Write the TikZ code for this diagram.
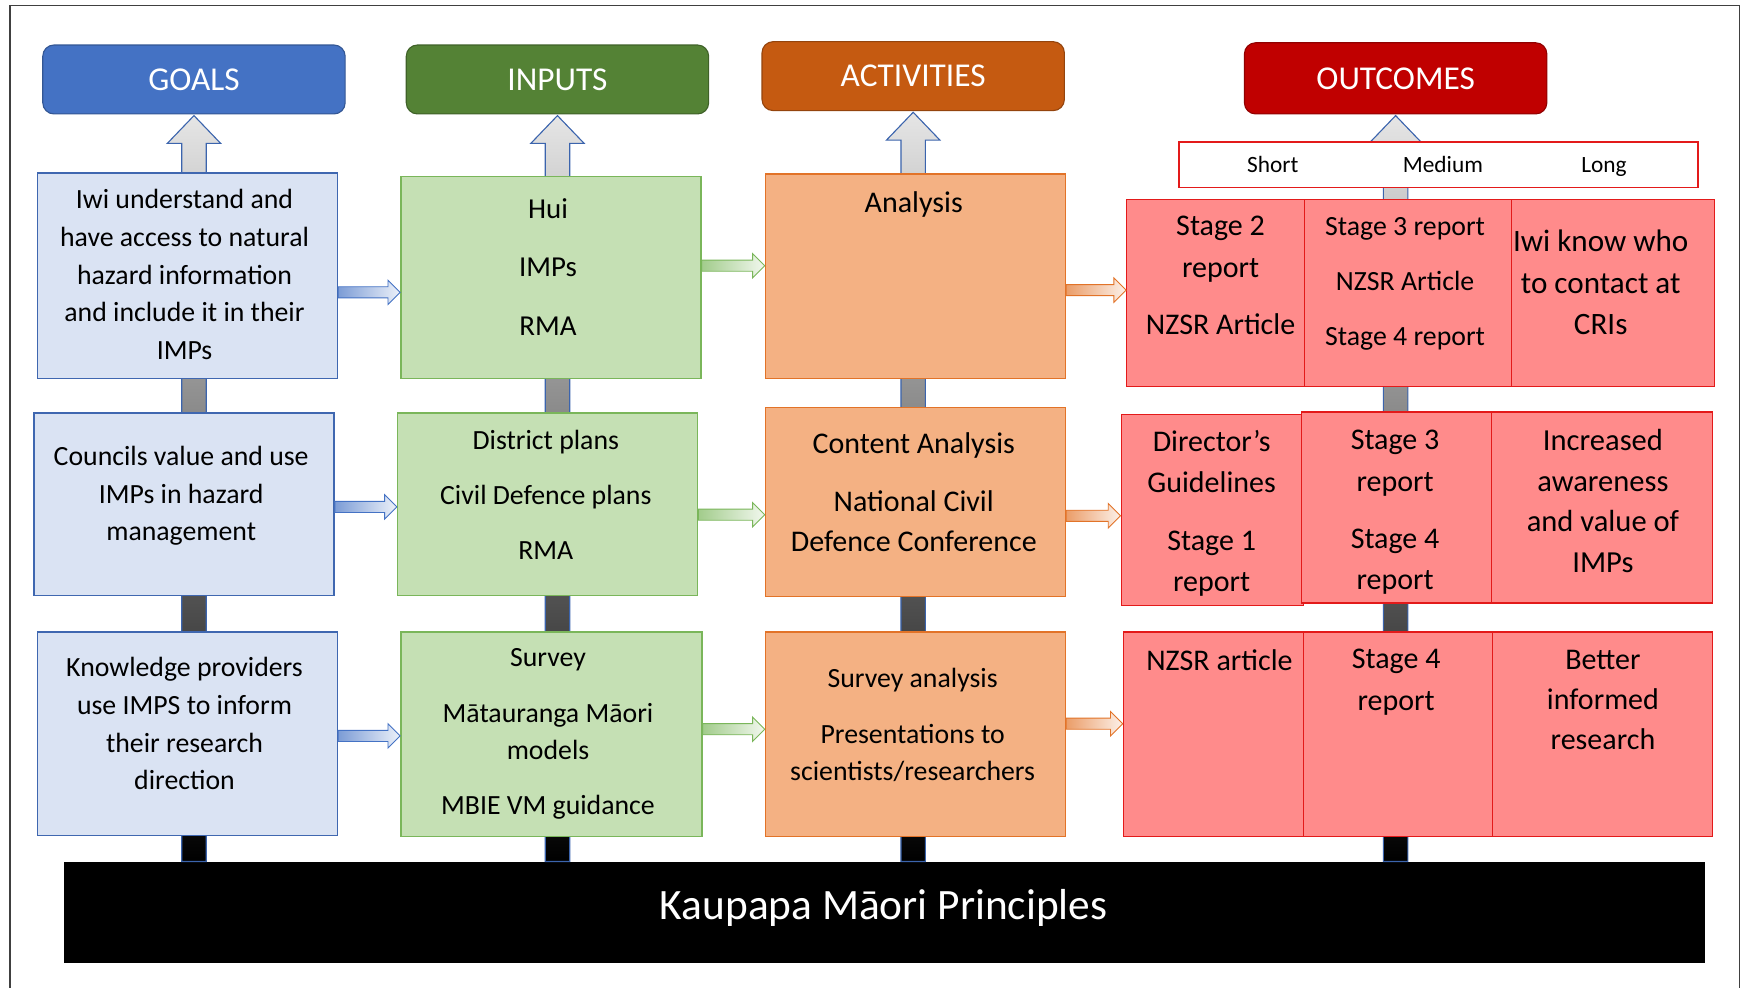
\documentclass[tikz,border=0pt]{standalone}
\usepackage{fontspec}
\setmainfont{Carlito}
\usetikzlibrary{calc}

\definecolor{goalhead}{HTML}{4472C4}
\definecolor{inhead}{HTML}{548235}
\definecolor{acthead}{HTML}{C55A11}
\definecolor{outhead}{HTML}{C00000}
\definecolor{goalfill}{HTML}{DAE3F3}
\definecolor{goaledge}{HTML}{3F67B0}
\definecolor{infill}{HTML}{C5E0B4}
\definecolor{inedge}{HTML}{7AB65A}
\definecolor{actfill}{HTML}{F4B183}
\definecolor{actedge}{HTML}{E27328}
\definecolor{outfill}{HTML}{FF8B8B}
\definecolor{outedge}{HTML}{E31A1A}
\definecolor{arrowedge}{HTML}{3B64AD}

\newcommand{\fsz}[2]{\fontsize{#1}{#2}\selectfont}
% grey block arrow from the base bar up to a header
\newcommand{\upconn}[2]{%
  \path[draw=arrowedge, line width=1pt, top color=black!10, bottom color=black]
    let \p1=(#1.south), \p2=(#2.north) in
    (\x1-11pt,\y2) -- (\x1-11pt,\y1-26pt) -- (\x1-24pt,\y1-26pt) -- (\x1,\y1-1pt)
    -- (\x1+24pt,\y1-26pt) -- (\x1+11pt,\y1-26pt) -- (\x1+11pt,\y2) -- cycle;}
% small block arrow between two boxes
\newcommand{\rightconn}[4]{%
  \path[draw=#4, line width=0.8pt, left color=#4!70, right color=#4!10]
    let \p1=(#1.east), \p2=(#2.west) in
    (\x1,#3+5pt) -- (\x2-11pt,#3+5pt) -- (\x2-11pt,#3+11pt) -- (\x2,#3)
    -- (\x2-11pt,#3-11pt) -- (\x2-11pt,#3-5pt) -- (\x1,#3-5pt) -- cycle;}

\begin{document}
\begin{tikzpicture}[x=1pt,y=1pt,
    head/.style={draw, rounded corners=10pt, line width=1pt, anchor=north west, inner sep=0pt,
      minimum width=272pt, minimum height=62pt, text=white, font=\fsz{30}{36}},
    box/.style={draw, line width=1.2pt, anchor=north west, inner sep=0pt},
    goalbox/.style={box, fill=goalfill, draw=goaledge},
    inbox/.style={box, fill=infill, draw=inedge},
    actbox/.style={box, fill=actfill, draw=actedge},
    outbox/.style={box, fill=outfill, draw=outedge},
    term/.style={font=\fsz{21}{25}, text height=14pt, text depth=4pt},
    txt/.style={anchor=north, align=center, inner sep=0pt}]
	\useasboundingbox (0,0) rectangle (1568,-888);
	\draw[line width=1.3pt, black!75] (9,-5) rectangle (1565,-900);

	\node[head, fill=goalhead, draw=goalhead!75!black] (hgoals) at (38,-40) {GOALS};
	\node[head, fill=inhead, draw=inhead!75!black] (hinputs) at (365,-40) {INPUTS};
	\node[head, fill=acthead, draw=acthead!75!black] (hacts) at (685,-37) {ACTIVITIES};
	\node[head, fill=outhead, draw=outhead!75!black, minimum height=64pt] (houts) at (1119,-38) {OUTCOMES};
	\node[fill=black, anchor=north west, inner sep=0pt, minimum width=1477pt, minimum height=91pt] (bar) at (57,-775) {};
	\node[text=white, font=\fsz{39}{47}] (kmp) at (795,-817) {Kaupapa Māori Principles};

	\upconn{hgoals}{bar}
	\upconn{hinputs}{bar}
	\upconn{hacts}{bar}
	\upconn{houts}{bar}

	% goals
	\node[goalbox, minimum width=270pt, minimum height=185pt] (g1) at (33,-155) {};
	\node[goalbox, minimum width=270pt, minimum height=164pt] (g2) at (30,-371) {};
	\node[goalbox, minimum width=270pt, minimum height=183pt] (g3) at (33,-568) {};
	% inputs
	\node[inbox, minimum width=270pt, minimum height=182pt] (i1) at (360,-158) {};
	\node[inbox, minimum width=270pt, minimum height=164pt] (i2) at (357,-371) {};
	\node[inbox, minimum width=271pt, minimum height=184pt] (i3) at (360,-568) {};
	% activities
	\node[actbox, minimum width=270pt, minimum height=184pt] (a1) at (688,-156) {};
	\node[actbox, minimum width=270pt, minimum height=170pt] (a2) at (688,-366) {};
	\node[actbox, minimum width=270pt, minimum height=184pt] (a3) at (688,-568) {};
	% outcomes
	\node[box, fill=white, draw=outedge, minimum width=467pt, minimum height=41pt] (terms) at (1060,-127) {};
	\node[outbox, minimum width=160pt, minimum height=168pt] (o11) at (1013,-179) {};
	\node[outbox, minimum width=186pt, minimum height=168pt] (o12) at (1173,-179) {};
	\node[outbox, minimum width=183pt, minimum height=168pt] (o13) at (1359,-179) {};
	\node[outbox, minimum width=164pt, minimum height=172pt] (o21) at (1008,-372) {};
	\node[outbox, minimum width=171pt, minimum height=172pt] (o22) at (1170,-370) {};
	\node[outbox, minimum width=199pt, minimum height=172pt] (o23) at (1341,-370) {};
	\node[outbox, minimum width=162pt, minimum height=184pt] (o31) at (1010,-568) {};
	\node[outbox, minimum width=170pt, minimum height=184pt] (o32) at (1172,-568) {};
	\node[outbox, minimum width=198pt, minimum height=184pt] (o33) at (1342,-568) {};

	\rightconn{g1}{i1}{-263pt}{goalhead}
	\rightconn{g2}{i2}{-456pt}{goalhead}
	\rightconn{g3}{i3}{-662pt}{goalhead}
	\rightconn{i1}{a1}{-239pt}{inedge}
	\rightconn{i2}{a2}{-463pt}{inedge}
	\rightconn{i3}{a3}{-656pt}{inedge}
	\rightconn{a1}{o11}{-261pt}{actedge}
	\rightconn{a2}{o21}{-464pt}{actedge}
	\rightconn{a3}{o31}{-651pt}{actedge}

	\node[term] (short) at (1145,-150) {Short};
	\node[term] (medium) at (1298,-150) {Medium};
	\node[term] (long) at (1443,-150) {Long};

	\node[txt, font=\fsz{25}{34}] (tg1) at (166,-170) {Iwi understand and\\have access to natural\\hazard information\\and include it in their\\IMPs};
	\node[txt, font=\fsz{25}{34}] (tg2) at (163,-401) {Councils value and use\\IMPs in hazard\\management};
	\node[txt, font=\fsz{25}{34}] (tg3) at (166,-591) {Knowledge providers\\use IMPS to inform\\their research\\direction};

	\node[txt, font=\fsz{26}{52.5}] (ti1) at (493,-178.5) {Hui\\IMPs\\RMA};
	\node[txt, font=\fsz{25}{49.5}] (ti2) at (491,-386.5) {District plans\\Civil Defence plans\\RMA};
	\node[txt, font=\fsz{25}{33}] (ti3) at (493,-583.5) {Survey\\[17pt]Mātauranga Māori\\models\\[17pt]MBIE VM guidance};

	\node[txt, font=\fsz{27}{36}] (ta1) at (822,-172) {Analysis};
	\node[txt, font=\fsz{27}{36}] (ta2) at (822,-389) {Content Analysis\\[16pt]National Civil\\Defence Conference};
	\node[txt, font=\fsz{25}{34}] (ta3) at (821,-601) {Survey analysis\\[16pt]Presentations to\\scientists/researchers};

	\node[txt, font=\fsz{27}{38}] (to11) at (1098,-194) {Stage 2\\report\\[13pt]NZSR Article};
	\node[txt, font=\fsz{25}{49.5}] (to12) at (1264,-195) {Stage 3 report\\NZSR Article\\Stage 4 report};
	\node[txt, font=\fsz{28}{37}] (to13) at (1440,-207) {Iwi know who\\to contact at\\CRIs};
	\node[txt, font=\fsz{27}{37}] (to21) at (1090,-387) {Director’s\\Guidelines\\[15pt]Stage 1\\report};
	\node[txt, font=\fsz{27}{37}] (to22) at (1255,-387) {Stage 3\\report\\[15pt]Stage 4\\report};
	\node[txt, font=\fsz{27.5}{36.5}] (to23) at (1442,-386) {Increased\\awareness\\and value of\\IMPs};
	\node[txt, font=\fsz{27}{37}] (to31) at (1097,-584.5) {NZSR article};
	\node[txt, font=\fsz{27}{37}] (to32) at (1256,-584) {Stage 4\\report};
	\node[txt, font=\fsz{27}{36}] (to33) at (1442,-584.5) {Better\\informed\\research};
\end{tikzpicture}
\end{document}
